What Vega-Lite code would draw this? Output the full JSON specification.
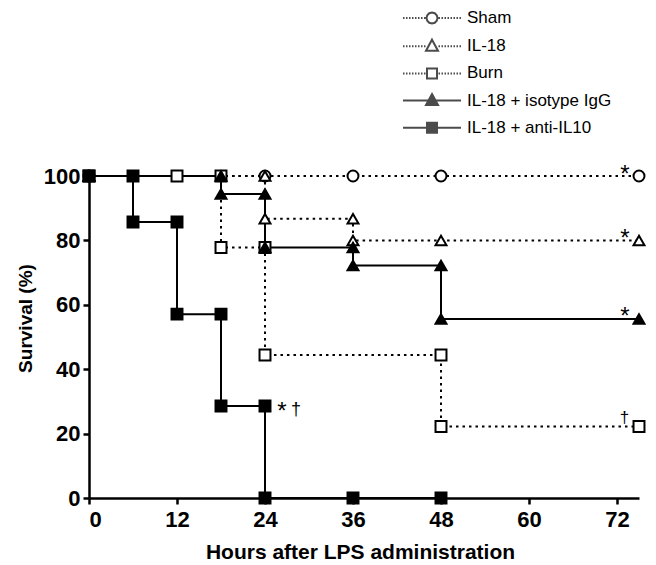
{
  "$schema": "https://vega.github.io/schema/vega-lite/v6.json",
  "width": 550,
  "height": 322,
  "autosize": "none",
  "padding": {"left": 89, "top": 176, "right": 17, "bottom": 67},
  "background": "white",
  "config": {
    "view": {"stroke": null},
    "font": "Liberation Sans",
    "axis": {
      "domainColor": "black", "domainWidth": 2.5, "tickColor": "black", "tickWidth": 2.5, "tickSize": 6,
      "labelColor": "black", "labelFont": "Liberation Sans", "labelFontWeight": "bold", "labelFontSize": 22,
      "titleColor": "black", "titleFont": "Liberation Sans", "titleFontWeight": "bold", "grid": false
    }
  },
  "resolve": {"scale": {"shape": "independent"}},
  "datasets": {
    "surv": [
      {"group": "Sham", "i": 1, "hour": 0, "survival": 100},
      {"group": "Sham", "i": 2, "hour": 24, "survival": 100},
      {"group": "Sham", "i": 3, "hour": 36, "survival": 100},
      {"group": "Sham", "i": 4, "hour": 48, "survival": 100},
      {"group": "Sham", "i": 5, "hour": 75, "survival": 100},
      {"group": "IL-18", "i": 1, "hour": 0, "survival": 100},
      {"group": "IL-18", "i": 2, "hour": 24, "survival": 100},
      {"group": "IL-18", "i": 3, "hour": 24, "survival": 86.7},
      {"group": "IL-18", "i": 4, "hour": 36, "survival": 86.7},
      {"group": "IL-18", "i": 5, "hour": 36, "survival": 80},
      {"group": "IL-18", "i": 6, "hour": 48, "survival": 80},
      {"group": "IL-18", "i": 7, "hour": 75, "survival": 80},
      {"group": "Burn", "i": 1, "hour": 0, "survival": 100},
      {"group": "Burn", "i": 2, "hour": 12, "survival": 100},
      {"group": "Burn", "i": 3, "hour": 18, "survival": 100},
      {"group": "Burn", "i": 4, "hour": 18, "survival": 77.8},
      {"group": "Burn", "i": 5, "hour": 24, "survival": 77.8},
      {"group": "Burn", "i": 6, "hour": 24, "survival": 44.4},
      {"group": "Burn", "i": 7, "hour": 48, "survival": 44.4},
      {"group": "Burn", "i": 8, "hour": 48, "survival": 22.2},
      {"group": "Burn", "i": 9, "hour": 75, "survival": 22.2},
      {"group": "IL-18 + isotype IgG", "i": 1, "hour": 0, "survival": 100},
      {"group": "IL-18 + isotype IgG", "i": 2, "hour": 18, "survival": 100},
      {"group": "IL-18 + isotype IgG", "i": 3, "hour": 18, "survival": 94.4},
      {"group": "IL-18 + isotype IgG", "i": 4, "hour": 24, "survival": 94.4},
      {"group": "IL-18 + isotype IgG", "i": 5, "hour": 24, "survival": 77.8},
      {"group": "IL-18 + isotype IgG", "i": 6, "hour": 36, "survival": 77.8},
      {"group": "IL-18 + isotype IgG", "i": 7, "hour": 36, "survival": 72.2},
      {"group": "IL-18 + isotype IgG", "i": 8, "hour": 48, "survival": 72.2},
      {"group": "IL-18 + isotype IgG", "i": 9, "hour": 48, "survival": 55.6},
      {"group": "IL-18 + isotype IgG", "i": 10, "hour": 75, "survival": 55.6},
      {"group": "IL-18 + anti-IL10", "i": 1, "hour": 0, "survival": 100},
      {"group": "IL-18 + anti-IL10", "i": 2, "hour": 6, "survival": 100},
      {"group": "IL-18 + anti-IL10", "i": 3, "hour": 6, "survival": 85.7},
      {"group": "IL-18 + anti-IL10", "i": 4, "hour": 12, "survival": 85.7},
      {"group": "IL-18 + anti-IL10", "i": 5, "hour": 12, "survival": 57.1},
      {"group": "IL-18 + anti-IL10", "i": 6, "hour": 18, "survival": 57.1},
      {"group": "IL-18 + anti-IL10", "i": 7, "hour": 18, "survival": 28.6},
      {"group": "IL-18 + anti-IL10", "i": 8, "hour": 24, "survival": 28.6},
      {"group": "IL-18 + anti-IL10", "i": 9, "hour": 24, "survival": 0},
      {"group": "IL-18 + anti-IL10", "i": 10, "hour": 36, "survival": 0},
      {"group": "IL-18 + anti-IL10", "i": 11, "hour": 48, "survival": 0}
    ],
    "notes": [
      {"where": "end", "hour": 75, "survival": 100, "label": "*"},
      {"where": "end", "hour": 75, "survival": 80, "label": "*"},
      {"where": "end", "hour": 75, "survival": 55.6, "label": "*"},
      {"where": "end", "hour": 75, "survival": 22.2, "label": "†"},
      {"where": "mid", "hour": 24, "survival": 28.6, "label": "*"},
      {"where": "mid", "hour": 24, "survival": 28.6, "label": "†"}
    ]
  },
  "encoding": {
    "x": {"field": "hour", "type": "quantitative",
      "scale": {"domain": [0, 75], "nice": false, "zero": false},
      "axis": {"values": [0, 12, 24, 36, 48, 60, 72], "title": "Hours after LPS administration",
        "titleFontSize": 21, "titleBaseline": "alphabetic", "titleX": 271, "titleY": 60, "labelPadding": 5}},
    "y": {"field": "survival", "type": "quantitative",
      "scale": {"domain": [0, 100], "nice": false},
      "axis": {"values": [0, 20, 40, 60, 80, 100], "title": "Survival (%)",
        "titleFontSize": 19, "titleBaseline": "alphabetic", "titleX": -58, "titleY": 142, "titleAngle": -90, "titleAlign": "center", "labelPadding": 3}}
  },
  "layer": [
    {
      "data": {"name": "surv"},
      "transform": [{"filter": "indexof(['Sham', 'IL-18', 'Burn'], datum.group) >= 0"}],
      "mark": {"type": "line", "color": "black", "strokeWidth": 2, "strokeDash": [2.5, 4]},
      "encoding": {
        "detail": {"field": "group"},
        "order": {"field": "i", "type": "quantitative"}
      }
    },
    {
      "data": {"name": "surv"},
      "transform": [{"filter": "indexof(['IL-18 + isotype IgG', 'IL-18 + anti-IL10'], datum.group) >= 0"}],
      "mark": {"type": "line", "color": "black", "strokeWidth": 2},
      "encoding": {
        "detail": {"field": "group"},
        "order": {"field": "i", "type": "quantitative"}
      }
    },
    {
      "data": {"name": "surv"},
      "transform": [{"filter": "indexof(['Sham', 'IL-18', 'Burn'], datum.group) >= 0"}],
      "mark": {"type": "point", "filled": true, "fill": "white", "stroke": "black", "strokeWidth": 2, "opacity": 1, "size": 120},
      "encoding": {
        "shape": {"field": "group", "type": "nominal", "legend": null,
          "scale": {"domain": ["Sham", "IL-18", "Burn"], "range": ["circle", "triangle-up", "square"]}}
      }
    },
    {
      "data": {"name": "surv"},
      "transform": [{"filter": "indexof(['IL-18 + isotype IgG', 'IL-18 + anti-IL10'], datum.group) >= 0"}],
      "mark": {"type": "point", "filled": true, "fill": "black", "stroke": "black", "strokeWidth": 2, "opacity": 1, "size": 120},
      "encoding": {
        "shape": {"field": "group", "type": "nominal", "legend": null,
          "scale": {"domain": ["IL-18 + isotype IgG", "IL-18 + anti-IL10"], "range": ["triangle-up", "square"]}}
      }
    },
    {
      "data": {"name": "surv"},
      "transform": [{"filter": "datum.i < 0"}],
      "mark": {"type": "point", "color": "black"},
      "encoding": {
        "shape": {"field": "group", "type": "nominal",
          "scale": {"domain": ["Sham", "IL-18", "Burn", "IL-18 + isotype IgG", "IL-18 + anti-IL10"],
            "range": [
              "M-2.9,0h0.15M-2.6,0h0.15M-2.3,0h0.15M-2,0h0.15M-1.7,0h0.15M-1.4,0h0.15M-1.1,0h0.15M-0.8,0h0.15M0.65,0h0.15M0.95,0h0.15M1.25,0h0.15M1.55,0h0.15M1.85,0h0.15M2.15,0h0.15M2.45,0h0.15M2.75,0h0.15M0.55,0L0.476,0.275L0.275,0.476L0,0.55L-0.275,0.476L-0.476,0.275L-0.55,0L-0.476,-0.275L-0.275,-0.476L0,-0.55L0.275,-0.476L0.476,-0.275Z",
              "M-2.9,0h0.15M-2.6,0h0.15M-2.3,0h0.15M-2,0h0.15M-1.7,0h0.15M-1.4,0h0.15M-1.1,0h0.15M-0.8,0h0.15M0.65,0h0.15M0.95,0h0.15M1.25,0h0.15M1.55,0h0.15M1.85,0h0.15M2.15,0h0.15M2.45,0h0.15M2.75,0h0.15M0,-0.65L0.6,0.45L-0.6,0.45Z",
              "M-2.9,0h0.15M-2.6,0h0.15M-2.3,0h0.15M-2,0h0.15M-1.7,0h0.15M-1.4,0h0.15M-1.1,0h0.15M-0.8,0h0.15M0.65,0h0.15M0.95,0h0.15M1.25,0h0.15M1.55,0h0.15M1.85,0h0.15M2.15,0h0.15M2.45,0h0.15M2.75,0h0.15M-0.5,-0.5H0.5V0.5H-0.5Z",
              "M-2.9,0H2.9M0,-0.65L0.6,0.45L-0.6,0.45ZM-0.05,-0.55H0.05M-0.11,-0.45H0.11M-0.16,-0.35H0.16M-0.22,-0.25H0.22M-0.27,-0.15H0.27M-0.33,-0.05H0.33M-0.38,0.05H0.38M-0.44,0.15H0.44M-0.49,0.25H0.49M-0.55,0.35H0.55",
              "M-2.9,0H2.9M-0.5,-0.5H0.5V0.5H-0.5ZM-0.5,-0.4H0.5M-0.5,-0.3H0.5M-0.5,-0.2H0.5M-0.5,-0.1H0.5M-0.5,0H0.5M-0.5,0.1H0.5M-0.5,0.2H0.5M-0.5,0.3H0.5M-0.5,0.4H0.5"
            ]},
          "legend": {
            "title": null, "orient": "none", "legendX": 332, "legendY": -169,
            "symbolSize": 400, "rowPadding": 7.2, "labelOffset": 24, "symbolStrokeWidth": 2,
            "labelFont": "Liberation Sans", "labelFontSize": 17, "labelColor": "black"
          }}
      }
    },
    {
      "data": {"name": "notes"},
      "transform": [{"filter": "datum.where === 'end' && datum.label === '*'"}],
      "mark": {"type": "text", "font": "Liberation Sans", "fontSize": 24, "fill": "black", "align": "center", "baseline": "alphabetic", "dx": -14, "dy": 5.5},
      "encoding": {"text": {"field": "label"}}
    },
    {
      "data": {"name": "notes"},
      "transform": [{"filter": "datum.where === 'end' && datum.label === '†'"}],
      "mark": {"type": "text", "font": "Liberation Sans", "fontSize": 17, "fill": "black", "align": "center", "baseline": "alphabetic", "dx": -14.5, "dy": -4},
      "encoding": {"text": {"field": "label"}}
    },
    {
      "data": {"name": "notes"},
      "transform": [{"filter": "datum.where === 'mid' && datum.label === '*'"}],
      "mark": {"type": "text", "font": "Liberation Sans", "fontSize": 24, "fill": "black", "align": "center", "baseline": "alphabetic", "dx": 17, "dy": 13},
      "encoding": {"text": {"field": "label"}}
    },
    {
      "data": {"name": "notes"},
      "transform": [{"filter": "datum.where === 'mid' && datum.label === '†'"}],
      "mark": {"type": "text", "font": "Liberation Sans", "fontSize": 18, "fill": "black", "align": "center", "baseline": "alphabetic", "dx": 31, "dy": 9},
      "encoding": {"text": {"field": "label"}}
    }
  ]
}
